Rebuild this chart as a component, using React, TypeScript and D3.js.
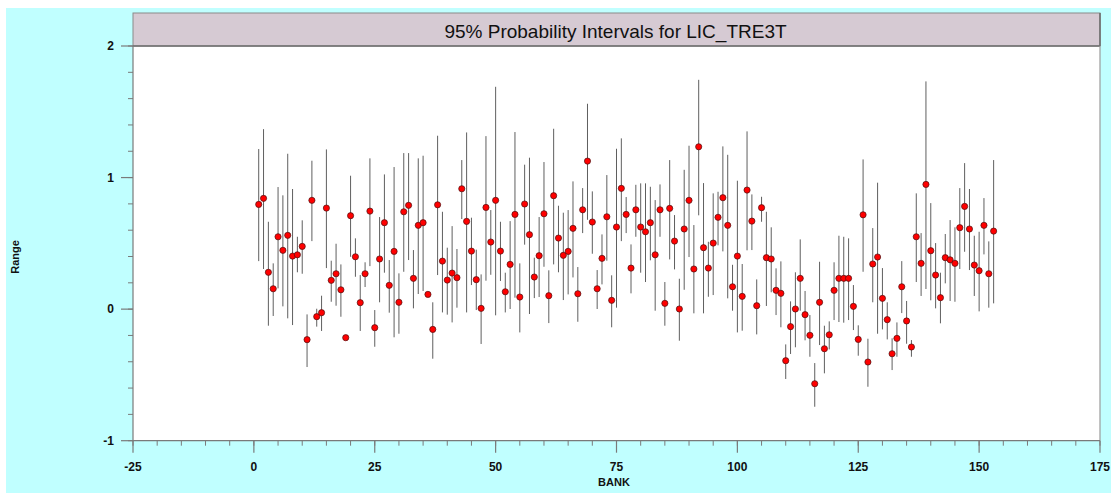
import React from "react";
import * as d3 from "d3";

const banks: number[] = d3.range(1, 154);

const est: number[] = [
  0.796, 0.842, 0.280, 0.155, 0.550, 0.447, 0.561, 0.403, 0.413, 0.477,
  -0.232, 0.827, -0.057, -0.027, 0.768, 0.219, 0.269, 0.147, -0.217, 0.710,
  0.398, 0.049, 0.269, 0.745, -0.141, 0.381, 0.657, 0.181, 0.439, 0.052,
  0.740, 0.789, 0.234, 0.637, 0.657, 0.112, -0.154, 0.793, 0.365, 0.221,
  0.274, 0.239, 0.915, 0.667, 0.441, 0.224, 0.006, 0.773, 0.510, 0.827,
  0.441, 0.132, 0.340, 0.720, 0.092, 0.799, 0.566, 0.244, 0.406, 0.725,
  0.102, 0.862, 0.540, 0.409, 0.439, 0.614, 0.117, 0.755, 1.125, 0.662,
  0.155, 0.386, 0.702, 0.067, 0.624, 0.918, 0.720, 0.312, 0.755, 0.624,
  0.588, 0.657, 0.413, 0.755, 0.044, 0.766, 0.517, 0.001, 0.609, 0.827,
  0.305, 1.234, 0.467, 0.312, 0.502, 0.698, 0.847, 0.637, 0.170, 0.403,
  0.097, 0.905, 0.669, 0.026, 0.771, 0.391, 0.381, 0.143, 0.120, -0.392,
  -0.133, 0.001, 0.234, -0.042, -0.199, -0.567, 0.052, -0.301, -0.195, 0.143,
  0.234, 0.234, 0.234, 0.021, -0.230, 0.717, -0.402, 0.343, 0.396, 0.082,
  -0.080, -0.339, -0.222, 0.170, -0.090, -0.288, 0.550, 0.348, 0.948, 0.444,
  0.259, 0.087, 0.391, 0.375, 0.348, 0.619, 0.781, 0.609, 0.335, 0.292,
  0.637, 0.269, 0.593,
];

const hi: number[] = [
  1.217, 1.368, 0.664, 0.348, 0.928, 0.865, 1.181, 0.913, 0.55, 0.675,
  -0.04, 1.128, 0.003, 0.102, 1.214, 0.368, 0.497, 0.340, -0.20, 1.014,
  0.538, 0.259, 0.356, 1.146, -0.007, 0.700, 1.024, 0.373, 1.080, 0.272,
  1.186, 1.186, 0.449, 1.146, 1.166, 0.13, 0.052, 1.318, 0.740, 0.467,
  0.631, 0.457, 1.133, 1.343, 0.695, 0.452, 0.264, 1.315, 0.753, 1.690,
  0.664, 0.277, 0.669, 1.346, 0.348, 1.098, 1.151, 0.391, 0.700, 1.118,
  0.295, 1.371, 0.786, 0.733, 0.753, 0.971, 0.320, 0.920, 1.561, 0.895,
  0.297, 0.568, 1.019, 0.257, 1.219, 1.298, 0.852, 0.492, 0.945, 0.956,
  0.956, 0.930, 0.829, 0.948, 0.206, 1.133, 0.715, 0.231, 1.059, 1.242,
  0.639, 1.743, 0.958, 0.512, 0.880, 0.892, 1.237, 1.173, 0.337, 0.976,
  0.343, 1.351, 0.872, 0.226, 0.854, 0.740, 0.622, 0.310, 0.363, -0.268,
  0.059, 0.280, 0.530, 0.138, -0.045, -0.410, 0.360, -0.126, -0.093, 0.356,
  0.558, 0.550, 0.538, 0.183, -0.123, 1.138, -0.225, 0.616, 0.961, 0.312,
  0.052, -0.222, -0.101, 0.365, 0.062, -0.235, 0.880, 0.578, 1.731, 0.806,
  0.502, 0.277, 0.571, 0.677, 0.622, 0.920, 1.110, 0.913, 0.558, 0.588,
  0.844, 0.515, 1.133,
];

const lo: number[] = [
  0.365, 0.305, -0.126, -0.052, 0.158, 0.021, -0.07, -0.121, 0.28, 0.269,
  -0.44, 0.517, -0.133, -0.166, 0.312, 0.056, 0.026, -0.058, -0.23, 0.398,
  0.246, -0.166, 0.168, 0.327, -0.286, 0.052, 0.277, -0.027, -0.214, -0.187,
  0.284, 0.373, 0.006, 0.115, 0.138, 0.10, -0.377, 0.259, -0.025, -0.042,
  -0.101, 0.011, 0.685, -0.025, 0.183, -0.007, -0.265, 0.216, 0.261, -0.047,
  0.214, -0.025, 0.001, 0.087, -0.177, 0.490, -0.037, 0.084, 0.092, 0.322,
  -0.106, 0.340, 0.280, 0.069, 0.112, 0.241, -0.096, 0.578, 0.679, 0.421,
  0.001, 0.188, 0.368, -0.138, 0.011, 0.517, 0.578, 0.120, 0.550, 0.277,
  0.206, 0.371, -0.012, 0.550, -0.126, 0.378, 0.302, -0.240, 0.147, 0.396,
  -0.032, 0.713, -0.032, 0.094, 0.107, 0.485, 0.439, 0.082, -0.012, -0.177,
  -0.164, 0.447, 0.449, -0.192, 0.664, 0.024, 0.128, -0.045, -0.138, -0.531,
  -0.341, -0.290, -0.012, -0.237, -0.362, -0.742, -0.273, -0.488, -0.306, -0.083,
  -0.098, -0.103, -0.083, -0.159, -0.354, 0.284, -0.590, 0.052, -0.187, -0.154,
  -0.230, -0.463, -0.362, -0.030, -0.263, -0.362, 0.206, 0.100, 0.153, 0.067,
  0.006, -0.108, 0.196, 0.062, 0.056, 0.305, 0.436, 0.297, 0.100, -0.017,
  0.416, 0.011, 0.044,
];

const xMajor: number[] = [-25, 0, 25, 50, 75, 100, 125, 150, 175];
const yMajor: number[] = [-1, 0, 1, 2];

const title = "95% Probability Intervals for LIC_TRE3T";
const xLabel = "BANK";
const yLabel = "Range";

export default function App() {
  const W = 1111, H = 493;
  const L = 133, R = 1100, T = 46, B = 440.7;
  const x = d3.scaleLinear().domain([-25, 175]).range([L, R]);
  const y = d3.scaleLinear().domain([-1, 2]).range([B, T]);
  const xMinor = d3.range(-25, 176, 5);
  const yMinor = d3.range(-1, 2.001, 0.2);
  const axisColor = "#7a7a7a";
  const font = "'Liberation Sans', Arial, sans-serif";

  return (
    <div style={{ position: "absolute", left: 0, top: 0 }}>
      <svg width={W} height={H} style={{ display: "block" }}>
        <rect x={0} y={0} width={W} height={H} fill="#ffffff" />
        <rect x={6} y={8} width={W - 6} height={H - 8} fill="#c0ffff" />
        {/* plot area */}
        <rect x={L} y={T} width={R - L} height={B - T} fill="#ffffff" />
        {/* title box */}
        <rect x={L} y={13} width={R - L} height={T - 13} fill="#d6cad3" stroke="#8a8a8a" strokeWidth={1} />
        <line x1={R} x2={R} y1={13} y2={T} stroke="#6e6e6e" strokeWidth={1.6} />
        <line x1={L} x2={R} y1={T} y2={T} stroke="#6e6e6e" strokeWidth={1.6} />
        <text x={(L + R) / 2 - 1} y={37.5} textAnchor="middle" fontFamily={font} fontSize={19} fill="#111">
          {title}
        </text>
        {/* right border */}
        <line x1={R} x2={R} y1={T} y2={B} stroke="#9a9a9a" strokeWidth={1.2} />
        {/* axes */}
        <line x1={L} x2={L} y1={T} y2={B} stroke={axisColor} strokeWidth={1.2} />
        <line x1={L} x2={R} y1={B} y2={B} stroke={axisColor} strokeWidth={1.2} />
        {xMinor.map((v) => (
          <line key={"xm" + v} x1={x(v)} x2={x(v)} y1={B} y2={B + 5} stroke={axisColor} strokeWidth={1} />
        ))}
        {xMajor.map((v) => (
          <g key={"xM" + v}>
            <line x1={x(v)} x2={x(v)} y1={B} y2={B + 12} stroke={axisColor} strokeWidth={1.2} />
            <text x={x(v)} y={470.5} textAnchor="middle" fontFamily={font} fontWeight="bold" fontSize={12} fill="#111">
              {v}
            </text>
          </g>
        ))}
        {yMinor.map((v, i) => (
          <line key={"ym" + i} x1={L - 5} x2={L} y1={y(v)} y2={y(v)} stroke={axisColor} strokeWidth={1} />
        ))}
        {yMajor.map((v) => (
          <g key={"yM" + v}>
            <line x1={L - 12} x2={L} y1={y(v)} y2={y(v)} stroke={axisColor} strokeWidth={1.2} />
            <text x={114} y={y(v) + 4.3} textAnchor="end" fontFamily={font} fontWeight="bold" fontSize={12} fill="#111">
              {v}
            </text>
          </g>
        ))}
        <text x={614} y={486} textAnchor="middle" fontFamily={font} fontWeight="bold" fontSize={11} fill="#111">
          {xLabel}
        </text>
        <text
          transform={`translate(19,257) rotate(-90)`}
          textAnchor="middle"
          fontFamily={font}
          fontWeight="bold"
          fontSize={11}
          fill="#111"
        >
          {yLabel}
        </text>
        {/* intervals */}
        {banks.map((b, i) => (
          <line key={"l" + b} x1={x(b)} x2={x(b)} y1={y(hi[i])} y2={y(lo[i])} stroke="#5f5f5f" strokeWidth={1} />
        ))}
        {banks.map((b, i) => (
          <circle key={"c" + b} cx={x(b)} cy={y(est[i])} r={3.1} fill="#ff0000" stroke="#4a1010" strokeWidth={0.7} />
        ))}
      </svg>
    </div>
  );
}
